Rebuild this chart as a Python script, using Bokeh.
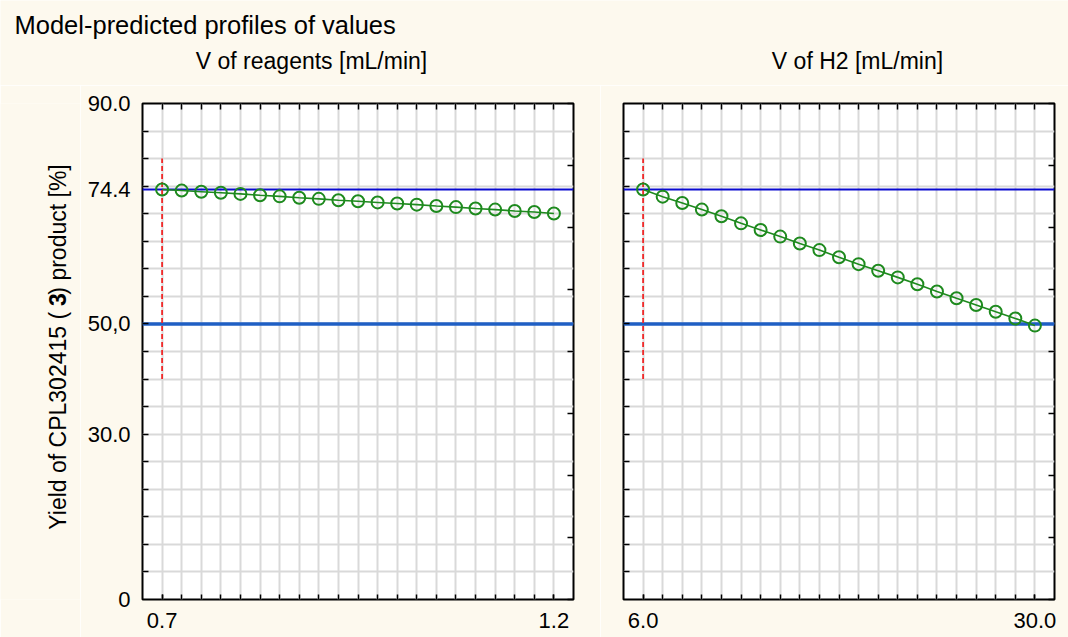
from math import pi

from bokeh.core.properties import value
from bokeh.embed import file_html
from bokeh.layouts import column, row
from bokeh.models import (ColumnDataSource, CustomJSTickFormatter, FixedTicker,
                          LinearAxis, PrintfTickFormatter, Range1d, Span)
from bokeh.plotting import figure
from bokeh.resources import INLINE

# ---- data -----------------------------------------------------------------
v_reagents = [0.7, 0.725, 0.75, 0.775, 0.8, 0.825, 0.85, 0.875, 0.9, 0.925, 0.95,
              0.975, 1.0, 1.025, 1.05, 1.075, 1.1, 1.125, 1.15, 1.175, 1.2]
yield_reagents = [74.4, 74.2, 74.0, 73.8, 73.6, 73.35, 73.15, 72.9, 72.7, 72.45, 72.25,
                  72.05, 71.85, 71.65, 71.4, 71.2, 70.95, 70.75, 70.5, 70.3, 70.05]

v_h2 = [6.0, 7.2, 8.4, 9.6, 10.8, 12.0, 13.2, 14.4, 15.6, 16.8, 18.0,
        19.2, 20.4, 21.6, 22.8, 24.0, 25.2, 26.4, 27.6, 28.8, 30.0]
yield_h2 = [74.4, 73.1, 71.95, 70.75, 69.55, 68.25, 67.05, 65.85, 64.6, 63.4, 62.1,
            60.85, 59.65, 58.45, 57.2, 55.9, 54.65, 53.45, 52.2, 51.0, 49.7]

current_yield = 74.4          # predicted yield at the current settings
desirability_limit = 50.0     # reference level
ref_span = [40, 80]           # vertical extent of the current-setting marker

y_tick_values = [0, 30, 50, 74.4, 90]
y_tick_labels = ["0", "30.0", "50,0", "74.4", "90.0"]
y_grid_values = [5, 10, 15, 20, 25, 30, 35, 40, 45, 50, 55, 60, 65, 70, 75, 80, 85]
y_right_ticks = [0, 11.25, 22.5, 33.75, 45, 56.25, 67.5, 78.75, 90]

title_text = "Model-predicted profiles of values"
panel_titles = ["V of reagents [mL/min]", "V of H2 [mL/min]"]
y_label_parts = ["Yield of CPL302415 (", "3", ") product [%]"]

# ---- styling --------------------------------------------------------------
BG = "#FDF9EE"
GREEN = "#1E8A1E"
FONT = "Liberation Sans"
TICK_FS = "22px"
HEADER_H = 85
PANEL_H = 637 - HEADER_H
YLAB_W = 80

EMPTY = CustomJSTickFormatter(code="return '';")


def style_axis(ax, tick_in=6):
    ax.axis_line_color = None
    ax.major_tick_in = tick_in
    ax.major_tick_out = 0
    ax.minor_tick_in = 0
    ax.minor_tick_out = 0
    ax.major_tick_line_color = "black"
    ax.major_tick_line_width = 1.5
    ax.minor_tick_line_color = "black"
    ax.minor_tick_line_width = 1.5
    ax.major_label_text_font = FONT
    ax.major_label_text_font_size = TICK_FS
    ax.major_label_text_color = "black"


def make_panel(xs, ys, x_lo, x_hi, width, b_left, b_right, y_labels):
    p = figure(width=width, height=PANEL_H, x_range=Range1d(x_lo, x_hi),
               y_range=Range1d(0, 90), output_backend="svg", toolbar_location=None,
               min_border_left=b_left, min_border_right=b_right,
               min_border_top=103 - HEADER_H, min_border_bottom=38,
               background_fill_color="white", border_fill_color=BG,
               outline_line_color="black", outline_line_width=2)

    # bottom axis: end labels, a tick at every profile step
    xb = p.xaxis[0]
    xb.ticker = FixedTicker(ticks=[xs[0], xs[-1]], minor_ticks=xs)
    xb.formatter = PrintfTickFormatter(format="%.1f")
    style_axis(xb, tick_in=5)
    xb.minor_tick_in = 5
    xb.major_label_standoff = 13

    # left axis
    yl = p.yaxis[0]
    yl.ticker = FixedTicker(ticks=y_tick_values, minor_ticks=y_grid_values)
    style_axis(yl, tick_in=0)
    yl.minor_tick_in = 6
    if y_labels:
        yl.formatter = CustomJSTickFormatter(
            args=dict(vals=y_tick_values, labs=y_tick_labels),
            code="const i = vals.findIndex(v => Math.abs(v - tick) < 1e-6);"
                 " return i >= 0 ? labs[i] : '';")
        yl.major_label_standoff = 12
    else:
        yl.formatter = EMPTY
        yl.major_label_standoff = 0

    # top and right frame ticks
    top = LinearAxis(ticker=FixedTicker(ticks=xs), formatter=EMPTY, major_label_standoff=0)
    style_axis(top, tick_in=6)
    p.add_layout(top, "above")
    right = LinearAxis(ticker=FixedTicker(ticks=y_right_ticks), formatter=EMPTY,
                       major_label_standoff=0)
    style_axis(right, tick_in=6)
    p.add_layout(right, "right")

    # grid
    p.xgrid.ticker = FixedTicker(ticks=xs)
    p.ygrid.ticker = FixedTicker(ticks=y_grid_values)
    p.grid.grid_line_color = "#D9D9D9"
    p.grid.grid_line_width = 2

    # reference levels
    p.add_layout(Span(location=desirability_limit, dimension="width",
                      line_color="#1F5FC4", line_width=3.5, level="underlay"))
    p.add_layout(Span(location=current_yield, dimension="width",
                      line_color="#0A0ACF", line_width=2, level="underlay"))

    # marker for the current setting
    p.segment(x0=[xs[0]], y0=[ref_span[0]], x1=[xs[0]], y1=[ref_span[1]],
              line_color="#F02A2A", line_width=1.8, line_dash="5 3")

    # profile
    p.line(xs, ys, line_color=GREEN, line_width=1.6)
    p.scatter(xs, ys, marker="circle", size=12, fill_color=None,
              line_color=GREEN, line_width=2)
    return p


left = make_panel(v_reagents, yield_reagents, 0.675, 1.225, 600 - YLAB_W,
                  142 - YLAB_W, 27, True)
right = make_panel(v_h2, yield_h2, 4.8, 31.2, 468, 23, 14, False)


def text_canvas(width, height, top):
    """A bare figure whose data coordinates equal page pixels."""
    f = figure(width=width, height=height, title=None,
               x_range=Range1d(0, width), y_range=Range1d(top + height, top),
               output_backend="svg", toolbar_location=None,
               x_axis_location=None, y_axis_location=None,
               min_border=0, outline_line_color=None,
               background_fill_color=BG, border_fill_color=BG)
    f.grid.visible = False
    return f


# ---- header with main title and panel titles --------------------------------
header = text_canvas(1068, HEADER_H, 0)
header.text(x=[14], y=[33 - 0.3465 * 25.5], text=[title_text], text_font=value(FONT),
            text_font_size=value("25.5px"), text_color="black",
            text_align=value("left"), text_baseline=value("middle"))
header.text(x=[311, 857], y=[68 - 0.3465 * 23] * 2, text=panel_titles,
            text_font=value(FONT), text_font_size=value("23px"), text_color="black",
            text_align=value("center"), text_baseline=value("middle"))

# ---- rotated y-axis title with the compound number in bold ------------------
ylab = text_canvas(YLAB_W, PANEL_H, HEADER_H)
fs = 23
y_join = 310.5                   # page y where the bold "3" begins
baseline_x = 65
mid_x = baseline_x - 0.3465 * fs
ylab_src = ColumnDataSource(dict(
    x=[mid_x] * 3,
    y=[y_join + 0.278 * fs, y_join, y_join - 0.556 * fs],
    text=y_label_parts,
    align=["right", "left", "left"],
    style=["normal", "bold", "normal"],
))
ylab.text(x="x", y="y", text="text", source=ylab_src, angle=pi / 2,
          text_font=value(FONT), text_font_size=value(f"{fs}px"), text_color="black",
          text_align="align", text_font_style="style", text_baseline=value("middle"))

layout = column(header, row(ylab, left, right, spacing=0), spacing=0)

open("out.html", "w").write(file_html(layout, INLINE))
